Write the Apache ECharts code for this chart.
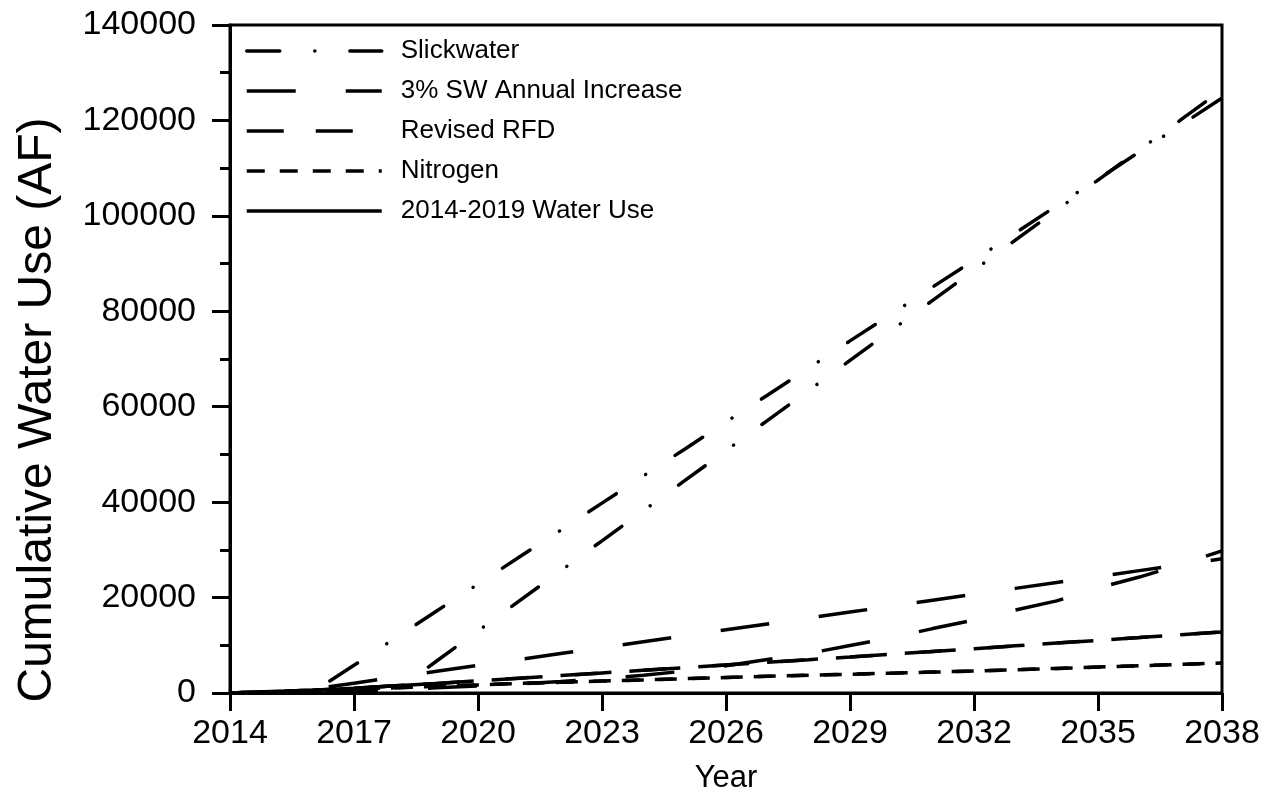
<!DOCTYPE html>
<html>
<head>
<meta charset="utf-8">
<script src="https://cdn.jsdelivr.net/npm/echarts@6/dist/echarts.min.js"></script>
<style>
  html, body { margin: 0; padding: 0; background: #ffffff; }
  #chart { width: 1273px; height: 805px; }
</style>
</head>
<body>
<div id="chart"></div>
<script>
// Years on the horizontal axis
const years = ['2014','2015','2016','2017','2018','2019','2020','2021','2022','2023','2024','2025','2026',
               '2027','2028','2029','2030','2031','2032','2033','2034','2035','2036','2037','2038'];

// Cumulative water use (AF), one value per year
const slickwaterA = [0, 100, 200, 5800, 11500, 17200, 22800, 28500, 34100, 39800, 45500, 51100, 56800,
                     62400, 68100, 73800, 79400, 85100, 90700, 96400, 102100, 107700, 113400, 119000, 124700];
const slickwaterB = [0, 100, 200, 300, 400, 6700, 13000, 19300, 25600, 31900, 38200, 44500, 50800,
                     57100, 63400, 69700, 76000, 82300, 88600, 94900, 101200, 107500, 113800, 120100, 126400];
const sw3A = [0, 100, 820, 2060, 3300, 4550, 5790, 7030, 8270, 9510, 10750, 12000, 13240,
              14480, 15720, 16960, 18200, 19440, 20680, 21930, 23170, 24410, 25650, 26890, 28130];
const sw3B = [0, 100, 250, 450, 700, 1100, 1500, 1900, 2400, 3000, 3700, 4600, 5700,
              7000, 8300, 9950, 11600, 13500, 15300, 17400, 19300, 22000, 24300, 26900, 29800];
const revisedRfd = [0, 300, 600, 1000, 1500, 2000, 2550, 3100, 3660, 4210, 4770, 5320, 5880,
                    6440, 6990, 7550, 8130, 8710, 9290, 9880, 10460, 11040, 11620, 12210, 12790];
const nitrogen = [0, 250, 500, 800, 1100, 1400, 1700, 2000, 2250, 2500, 2750, 3000, 3250,
                  3500, 3720, 3940, 4160, 4380, 4600, 4870, 5150, 5430, 5710, 6000, 6290];
const waterUse = [0, 300, 600, 1000, 1500, 2000];

// Axis ticks
const yTicks = [0, 20000, 40000, 60000, 80000, 100000, 120000, 140000];

const FONT = 'Liberation Sans, Arial, sans-serif';
const INK = '#000000';
const LINE_W = 3.5;

function line(name, data, type, offset, cap) {
  return {
    name: name,
    type: 'line',
    data: data,
    symbol: 'none',
    showSymbol: false,
    smooth: false,
    animation: false,
    itemStyle: { color: 'rgba(0,0,0,0)', opacity: 0 },
    lineStyle: { color: INK, width: LINE_W, type: type, dashOffset: offset || 0, cap: cap || 'butt' }
  };
}

const chart = echarts.init(document.getElementById('chart'), null, { renderer: 'canvas' });
chart.setOption({
  backgroundColor: '#ffffff',
  animation: false,
  grid: {
    left: 230, right: 51, top: 25, bottom: 112,
    show: true, borderColor: INK, borderWidth: 3, backgroundColor: 'transparent'
  },
  legend: {
    orient: 'vertical',
    left: 240, top: 33,
    itemWidth: 135, itemHeight: 26, itemGap: 14,
    itemStyle: { opacity: 0 },
    lineStyle: { color: INK, width: LINE_W },
    textStyle: { fontFamily: FONT, fontSize: 26, lineHeight: 26, color: INK, padding: [0, 0, 0, 14] },
    data: ['Slickwater', '3% SW Annual Increase', 'Revised RFD', 'Nitrogen', '2014-2019 Water Use']
  },
  xAxis: {
    type: 'category',
    data: years,
    boundaryGap: false,
    name: 'Year',
    nameLocation: 'middle',
    nameGap: 70,
    nameTextStyle: { fontFamily: FONT, fontSize: 31, color: INK },
    axisLine: { lineStyle: { color: INK, width: 3 } },
    axisTick: { show: true, interval: 2, length: 18, lineStyle: { color: INK, width: 3 } },
    axisLabel: { interval: 2, margin: 24, fontFamily: FONT, fontSize: 34, color: INK },
    splitLine: { show: false }
  },
  yAxis: {
    type: 'value',
    min: yTicks[0], max: yTicks[yTicks.length - 1], interval: yTicks[1] - yTicks[0],
    axisLine: { show: true, lineStyle: { color: INK, width: 3 } },
    axisTick: { show: true, length: 18, lineStyle: { color: INK, width: 3 } },
    minorTick: { show: true, splitNumber: 2, length: 10, lineStyle: { color: INK, width: 3 } },
    axisLabel: { margin: 34, fontFamily: FONT, fontSize: 34, color: INK, formatter: v => String(v) },
    splitLine: { show: false },
    minorSplitLine: { show: false }
  },
  // Vertical axis title
  graphic: [{
    type: 'text',
    x: 38, y: 410,
    rotation: Math.PI / 2,
    style: {
      text: 'Cumulative Water Use (AF)',
      fontFamily: FONT, fontSize: 48, fill: INK,
      align: 'center', verticalAlign: 'middle'
    }
  }],
  series: [
    line('Slickwater', slickwaterA, [33, 35, 0.1, 35], 0, 'round'),
    line('Slickwater', slickwaterB, [33, 35, 0.1, 35], 0, 'round'),
    line('3% SW Annual Increase', sw3A, [49, 50]),
    line('3% SW Annual Increase', sw3B, [49, 50]),
    line('Revised RFD', revisedRfd, [37, 32]),
    line('Revised RFD', revisedRfd, [37, 32], 14),
    line('Nitrogen', nitrogen, [18, 15]),
    line('Nitrogen', nitrogen, [18, 15], 4),
    line('2014-2019 Water Use', waterUse, 'solid')
  ]
});
</script>
</body>
</html>
